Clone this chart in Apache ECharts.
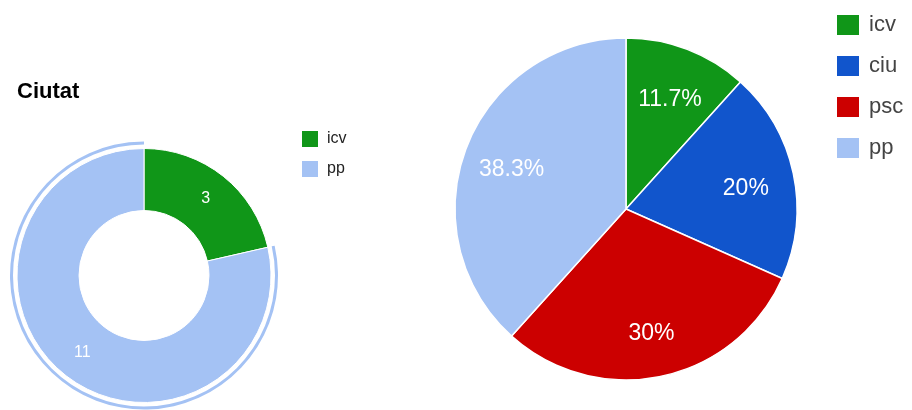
<!DOCTYPE html>
<html>
<head>
<meta charset="utf-8">
<script src="https://cdn.jsdelivr.net/npm/echarts@6/dist/echarts.min.js"></script>
<style>
html,body{margin:0;padding:0;background:#fff;}
#chart{width:912px;height:410px;}
</style>
</head>
<body>
<div id="chart"></div>
<script>
// dades del gràfic de l'esquerra (Ciutat)
var ciutatNames = ['icv', 'pp'];
var ciutatValues = [3, 11];

// dades del gràfic de la dreta
var totalNames = ['icv', 'ciu', 'psc', 'pp'];
var totalValues = [7, 12, 18, 23];

var partyColors = {icv: '#109618', ciu: '#1155cc', psc: '#cc0000', pp: '#a4c2f4'};
var font = '"Liberation Sans", Arial, sans-serif';

function buildData(names, values, transparentExcept) {
	var out = [];
	for (var i = 0; i < names.length; i++) {
		var c = partyColors[names[i]];
		if (transparentExcept === '*' || (transparentExcept && names[i] !== transparentExcept)) c = 'rgba(0,0,0,0)';
		out.push({name: names[i], value: values[i], itemStyle: {color: c}});
	}
	return out;
}

var totalSum = totalValues.reduce(function (a, b) { return a + b; }, 0);

var chart = echarts.init(document.getElementById('chart'));
chart.setOption({
	animation: false,
	title: {
		text: 'Ciutat',
		left: 17, top: 81, padding: 0,
		textStyle: {fontFamily: font, fontSize: 22, fontWeight: 'bold', color: '#000'}
	},
	legend: [{
		data: ciutatNames,
		orient: 'vertical',
		left: 300, top: 129, padding: 0,
		icon: 'rect', itemWidth: 18, itemHeight: 18, itemGap: 10,
		textStyle: {fontFamily: font, fontSize: 16, color: '#222', padding: [0, 0, 0, 3]},
		selectedMode: false
	}, {
		data: totalNames,
		orient: 'vertical',
		left: 835, top: 13, padding: 0,
		icon: 'rect', itemWidth: 24, itemHeight: 22, itemGap: 17,
		textStyle: {fontFamily: font, fontSize: 22, color: '#444', padding: [0, 0, 0, 4]},
		selectedMode: false
	}],
	series: [{
		// donut Ciutat
		type: 'pie',
		center: [144, 275.5],
		radius: [65, 127],
		startAngle: 90,
		clockwise: true,
		emphasis: {disabled: true},
		itemStyle: {borderColor: '#fff', borderWidth: 1},
		label: {
			show: true, position: 'inside',
			formatter: '{c}',
			fontFamily: font, fontSize: 16, color: '#fff'
		},
		labelLine: {show: false},
		data: buildData(ciutatNames, ciutatValues)
	}, {
		// anella de ressaltat al voltant de pp
		type: 'pie',
		silent: true,
		center: [144, 275.5],
		radius: [131, 134],
		startAngle: 90,
		label: {show: false},
		labelLine: {show: false},
		data: buildData(ciutatNames, ciutatValues, 'pp')
	}, {
		// pastís total
		type: 'pie',
		center: [626, 209],
		radius: [0, 171],
		startAngle: 90,
		emphasis: {disabled: true},
		itemStyle: {borderColor: '#fff', borderWidth: 1.5},
		label: {show: false},
		labelLine: {show: false},
		data: buildData(totalNames, totalValues)
	}, {
		// etiquetes de percentatge
		type: 'pie',
		silent: true,
		center: [626, 209],
		radius: [68, 171],
		startAngle: 90,
		label: {
			show: true, position: 'inside',
			offset: [0, 5],
			formatter: function (p) {
				return (Math.round(p.value / totalSum * 1000) / 10) + '%';
			},
			fontFamily: font, fontSize: 23, color: '#fff'
		},
		labelLine: {show: false},
		data: buildData(totalNames, totalValues, '*')
	}]
});
</script>
</body>
</html>
